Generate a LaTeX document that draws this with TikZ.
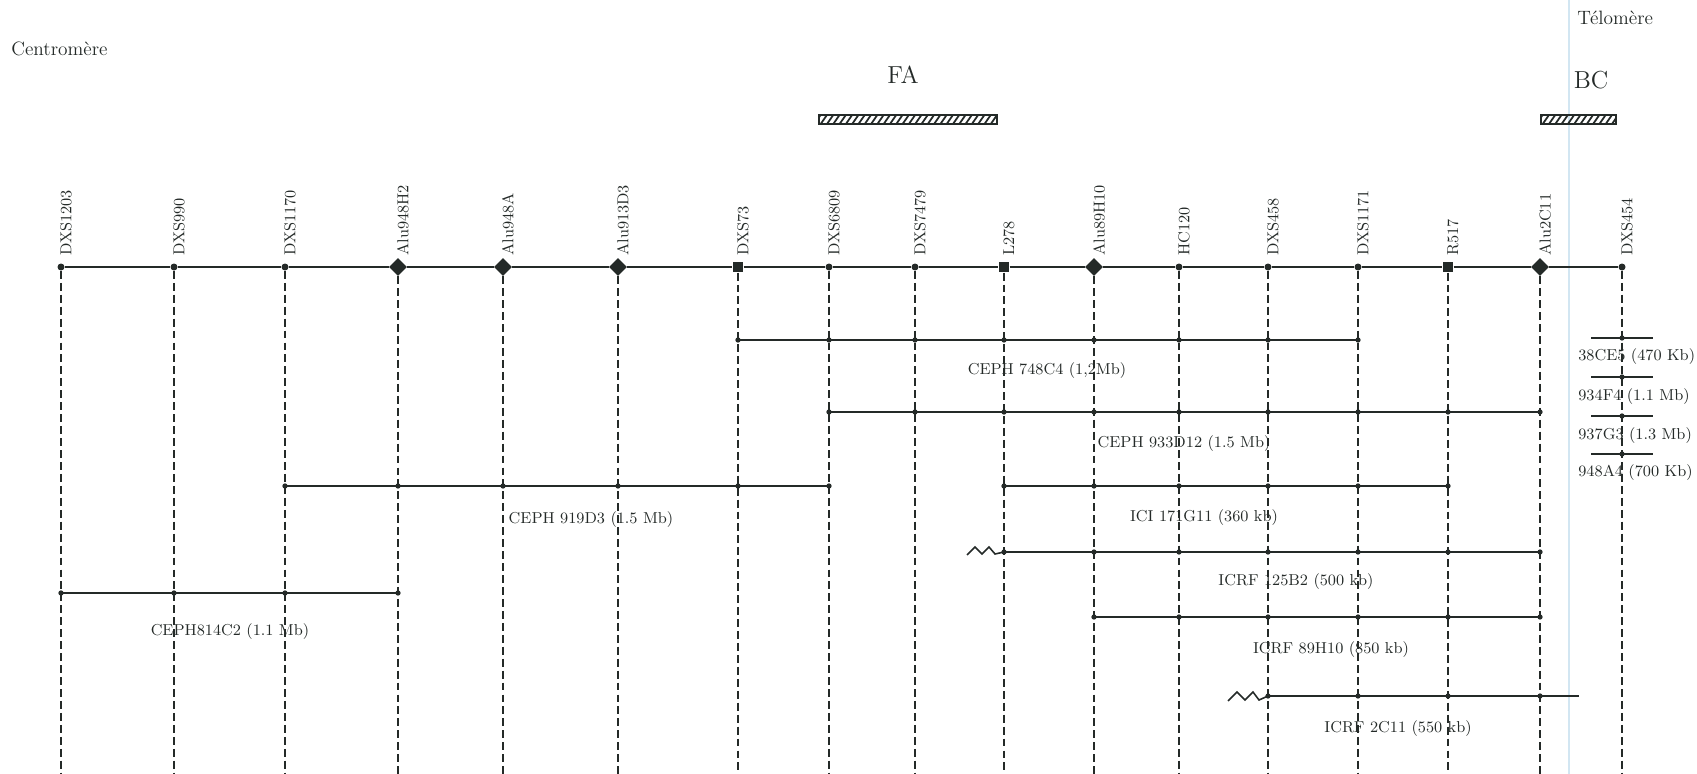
\documentclass[tikz,border=0pt]{standalone}
\usetikzlibrary{shapes.geometric}
\definecolor{ink}{RGB}{36,42,40}
\definecolor{pageblue}{RGB}{210,230,242}
\begin{document}
\begin{tikzpicture}[x=0.02cm,y=-0.02cm,
  axisline/.style={draw=ink,line width=1.1pt},
  guide/.style={draw=ink,line width=0.6pt,dash pattern=on 4.5pt off 2.3pt},
  yac/.style={draw=ink,line width=1.0pt},
  zig/.style={draw=ink,line width=0.9pt,line join=miter},
  dotmark/.style={circle,fill=ink,inner sep=0pt,minimum size=0.14cm},
  sqmark/.style={rectangle,fill=ink,inner sep=0pt,minimum size=0.21cm},
  dimark/.style={diamond,fill=ink,inner sep=0pt,minimum width=0.36cm,minimum height=0.36cm},
  mlabel/.style={rotate=90,anchor=west,inner sep=0pt,font=\fontsize{9}{10}\selectfont,text=ink},
  ylabel/.style={inner sep=0pt,font=\fontsize{9}{10}\selectfont,text=ink},
  ttl/.style={inner sep=0pt,font=\fontsize{14}{16}\selectfont,text=ink},
  side/.style={inner sep=0pt,font=\fontsize{11}{12}\selectfont,text=ink},
  hatchbar/.style={draw=ink,line width=0.6pt},
]
\useasboundingbox (0,0) rectangle (1697,774);
\fill[white] (0,0) rectangle (1697,774);
\draw[pageblue,line width=1.1pt] (1569,0) -- (1569,774);

% titles
\node[side,anchor=west] (cen) at (11,49) {Centromère};
\node[side,anchor=west] (tel) at (1577,18) {Télomère};
\node[ttl] (fa) at (903,75) {FA};
\node[ttl] (bc) at (1591,80) {BC};

% hatched bars
\begin{scope}
\clip (819,115) rectangle (997,124);
\foreach \i in {0,...,30} \draw[ink,line width=1pt] (813+6.3*\i,126) -- (822+6.3*\i,113);
\end{scope}
\draw[hatchbar] (819,115) rectangle (997,124);
\begin{scope}
\clip (1541,115) rectangle (1616,124);
\foreach \i in {0,...,13} \draw[ink,line width=1pt] (1535+6.3*\i,126) -- (1544+6.3*\i,113);
\end{scope}
\draw[hatchbar] (1541,115) rectangle (1616,124);

% markers
\foreach \n/\x/\s in {DXS1203/61/dotmark,DXS990/174/dotmark,DXS1170/285/dotmark,
  Alu948H2/398/dimark,Alu948A/503/dimark,Alu913D3/618/dimark,DXS73/738/sqmark,
  DXS6809/829/dotmark,DXS7479/915/dotmark,L278/1004/sqmark,Alu89H10/1094/dimark,
  HC120/1179/dotmark,DXS458/1268/dotmark,DXS1171/1358/dotmark,R517/1448/sqmark,
  Alu2C11/1540/dimark,DXS454/1622/dotmark}{
  \node[style=\s] (m\n) at (\x,267) {};
  \node[mlabel] (l\n) at (\x+5,256) {\n};
  \coordinate (b\n) at (\x,774);
}

% axis
\foreach \a/\b in {DXS1203/DXS990,DXS990/DXS1170,DXS1170/Alu948H2,Alu948H2/Alu948A,
  Alu948A/Alu913D3,Alu913D3/DXS73,DXS73/DXS6809,DXS6809/DXS7479,DXS7479/L278,
  L278/Alu89H10,Alu89H10/HC120,HC120/DXS458,DXS458/DXS1171,DXS1171/R517,
  R517/Alu2C11,Alu2C11/DXS454}{
  \draw[axisline] (m\a) -- (m\b);
}

% labels of YACs (under the guides)
\node[ylabel] (t748) at (1047,371) {CEPH 748C4 (1,2Mb)};
\node[ylabel] (t933) at (1184,444) {CEPH 933D12 (1.5 Mb)};
\node[ylabel] (t919) at (591,520) {CEPH 919D3 (1.5 Mb)};
\node[ylabel] (t171) at (1204,518) {ICI 171G11 (360 kb)};
\node[ylabel] (t125) at (1296,582) {ICRF 125B2 (500 kb)};
\node[ylabel] (t814) at (230,632) {CEPH814C2 (1.1 Mb)};
\node[ylabel] (t89) at (1331,650) {ICRF 89H10 (850 kb)};
\node[ylabel] (t2c) at (1398,729) {ICRF 2C11 (550 kb)};
\node[ylabel,anchor=west] (t38) at (1578,357) {38CE5 (470 Kb)};
\node[ylabel,anchor=west] (t934) at (1578,397) {934F4 (1.1 Mb)};
\node[ylabel,anchor=west] (t937) at (1578,436) {937G3 (1.3 Mb)};
\node[ylabel,anchor=west] (t948) at (1578,473) {948A4 (700 Kb)};

% guides
\foreach \n in {DXS1203,DXS990,DXS1170,Alu948H2,Alu948A,Alu913D3,DXS73,DXS6809,
  DXS7479,L278,Alu89H10,HC120,DXS458,DXS1171,R517,Alu2C11,DXS454}{
  \draw[guide] (m\n) -- (b\n);
}

% rows
\coordinate (r748) at (0,340);
\coordinate (r933) at (0,412);
\coordinate (r919) at (0,486);
\coordinate (r125) at (0,552);
\coordinate (r814) at (0,593);
\coordinate (r89) at (0,617);
\coordinate (r2c) at (0,696);

\draw[yac] (mDXS73 |- r748) -- (mDXS1171 |- r748);
\foreach \n in {DXS73,DXS6809,DXS7479,L278,Alu89H10,HC120,DXS458,DXS1171}
  \fill[ink] (m\n |- r748) circle[radius=1.5pt];

\draw[yac] (mDXS6809 |- r933) -- (mAlu2C11 |- r933);
\foreach \n in {DXS6809,DXS7479,L278,Alu89H10,HC120,DXS458,DXS1171,R517,Alu2C11}
  \fill[ink] (m\n |- r933) circle[radius=1.5pt];

\draw[yac] (mDXS1170 |- r919) -- (mDXS6809 |- r919);
\foreach \n in {DXS1170,Alu948H2,Alu948A,Alu913D3,DXS73,DXS6809}
  \fill[ink] (m\n |- r919) circle[radius=1.5pt];

\draw[yac] (mL278 |- r919) -- (mR517 |- r919);
\foreach \n in {L278,Alu89H10,HC120,DXS458,DXS1171,R517}
  \fill[ink] (m\n |- r919) circle[radius=1.5pt];

\draw[zig] (967,555) -- (975,547) -- (982,554) -- (989,547) -- (995,554) -- (mL278 |- r125);
\draw[yac] (mL278 |- r125) -- (mAlu2C11 |- r125);
\foreach \n in {L278,Alu89H10,HC120,DXS458,DXS1171,R517,Alu2C11}
  \fill[ink] (m\n |- r125) circle[radius=1.5pt];

\draw[yac] (mDXS1203 |- r814) -- (mAlu948H2 |- r814);
\foreach \n in {DXS1203,DXS990,DXS1170,Alu948H2}
  \fill[ink] (m\n |- r814) circle[radius=1.5pt];

\draw[yac] (mAlu89H10 |- r89) -- (mAlu2C11 |- r89);
\foreach \n in {Alu89H10,HC120,DXS458,DXS1171,R517,Alu2C11}
  \fill[ink] (m\n |- r89) circle[radius=1.5pt];

\coordinate (e2c) at (1579,696);
\draw[zig] (1228,701) -- (1237,692) -- (1245,700) -- (1253,692) -- (1259,700) -- (mDXS458 |- r2c);
\draw[yac] (mDXS458 |- r2c) -- (e2c);
\foreach \n in {DXS458,DXS1171,R517,Alu2C11}
  \fill[ink] (m\n |- r2c) circle[radius=1.5pt];

% short YACs at DXS454
\foreach \y/\k in {338/a,377/b,416/c,454/d}{
  \coordinate (s\k l) at (1591,\y);
  \coordinate (s\k r) at (1653,\y);
  \draw[yac] (s\k l) -- (s\k r);
  \fill[ink] (mDXS454 |- s\k l) circle[radius=1.5pt];
}
\end{tikzpicture}
\end{document}
